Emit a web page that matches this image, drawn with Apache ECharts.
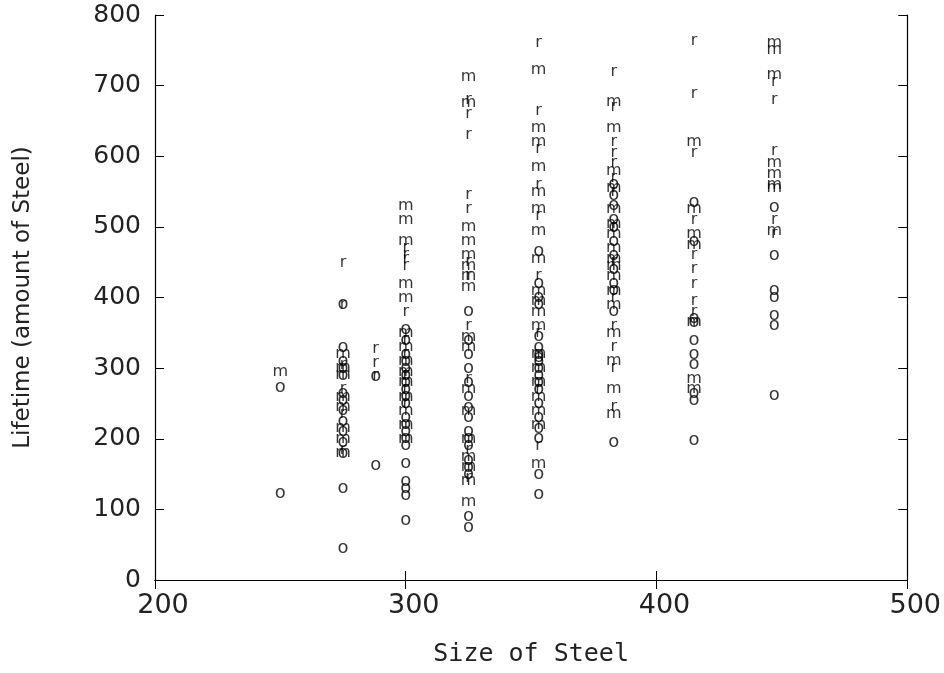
<!DOCTYPE html>
<html><head><meta charset="utf-8">
<script src="https://cdn.jsdelivr.net/npm/echarts@6/dist/echarts.min.js"></script>
<style>html,body{margin:0;padding:0;background:#fff}#c{width:944px;height:673px}</style>
</head><body><div id="c"></div>
<script>
const xTicks = [200, 300, 400, 500];
const yTicks = [0, 100, 200, 300, 400, 500, 600, 700, 800];
const groupO = [
 [250,273],[250,123],
 [275,390],[275,330],[275,310],[275,300],[275,290],[275,265],[275,255],[275,240],[275,225],[275,210],[275,195],[275,180],[275,130],[275,45],
 [288,289],[288,163],
 [300,355],[300,340],[300,320],[300,310],[300,300],[300,290],[300,280],[300,270],[300,260],[300,250],[300,230],[300,220],[300,210],[300,200],[300,190],[300,165],[300,140],[300,130],[300,120],[300,85],
 [325,380],[325,340],[325,320],[325,300],[325,280],[325,260],[325,245],[325,230],[325,210],[325,200],[325,190],[325,170],[325,160],[325,150],[325,90],[325,75],
 [353,465],[353,420],[353,400],[353,390],[353,345],[353,330],[353,320],[353,315],[353,310],[353,300],[353,290],[353,280],[353,270],[353,250],[353,230],[353,215],[353,200],[353,150],[353,122],
 [383,560],[383,545],[383,530],[383,510],[383,500],[383,480],[383,460],[383,440],[383,420],[383,410],[383,380],[383,195],
 [415,535],[415,480],[415,370],[415,365],[415,340],[415,320],[415,305],[415,265],[415,255],[415,198],
 [447,527],[447,460],[447,410],[447,400],[447,375],[447,360],[447,262]
];
const groupM = [
 [250,295],
 [275,320],[275,300],[275,290],[275,260],[275,245],[275,215],[275,200],[275,180],
 [300,530],[300,510],[300,480],[300,420],[300,400],[300,350],[300,330],[300,310],[300,295],[300,280],[300,260],[300,240],[300,220],[300,200],
 [325,713],[325,675],[325,500],[325,480],[325,460],[325,445],[325,430],[325,415],[325,345],[325,330],[325,270],[325,240],[325,200],[325,175],[325,160],[325,140],[325,110],
 [353,723],[353,640],[353,620],[353,585],[353,550],[353,525],[353,495],[353,455],[353,410],[353,395],[353,380],[353,360],[353,320],[353,300],[353,280],[353,260],[353,240],[353,220],[353,165],
 [383,677],[383,640],[383,580],[383,555],[383,525],[383,505],[383,490],[383,470],[383,455],[383,445],[383,430],[383,410],[383,390],[383,350],[383,310],[383,270],[383,235],
 [415,620],[415,525],[415,490],[415,475],[415,365],[415,285],[415,270],
 [447,760],[447,750],[447,715],[447,590],[447,575],[447,560],[447,555],[447,495]
];
const groupR = [
 [275,449],[275,390],[275,305],[275,270],[275,235],[275,185],
 [288,327],[288,307],[288,289],
 [300,470],[300,460],[300,455],[300,445],[300,380],[300,340],[300,320],[300,290],[300,270],[300,250],
 [325,680],[325,660],[325,630],[325,545],[325,525],[325,450],[325,430],[325,360],[325,285],[325,185],[325,145],
 [353,760],[353,665],[353,610],[353,560],[353,515],[353,430],[353,350],[353,270],[353,190],
 [383,720],[383,670],[383,620],[383,605],[383,590],[383,570],[383,550],[383,500],[383,450],[383,400],[383,360],[383,330],[383,300],[383,245],
 [415,763],[415,688],[415,605],[415,510],[415,460],[415,440],[415,420],[415,395],[415,380],
 [447,705],[447,680],[447,608],[447,510],[447,490]
];
const FONT = 'DejaVu Sans';
function ser(name, data, ch, size){
  return {name, type:'scatter', data, symbol:'circle', symbolSize:1,
    itemStyle:{color:'rgba(0,0,0,0)'}, silent:true, animation:false,
    label:{show:true, position:'inside', formatter:ch, color:'#000', fontFamily:FONT, fontSize:size, fontWeight:'normal'},
    xAxisIndex:0, yAxisIndex:0};
}
function axisStyle(){
  return {
    axisLine:{show:true, lineStyle:{color:'#000', width:1.2}},
    axisTick:{show:true, inside:true, length:9, lineStyle:{color:'#000', width:1}},
    splitLine:{show:false}
  };
}
const labelFont = {fontFamily:FONT, fontSize:25, color:'#222'};
const chart = echarts.init(document.getElementById('c'), null, {renderer:'canvas'});
chart.setOption({
  backgroundColor:'#fff',
  animation:false,
  grid:{left:155, right:32, top:15, bottom:93},
  xAxis:[
    Object.assign({type:'value', min:xTicks[0], max:xTicks[xTicks.length-1], interval:100, position:'bottom',
      name:'Size of Steel', nameLocation:'middle', nameGap:62,
      nameTextStyle:{fontFamily:'DejaVu Sans Mono', fontSize:25, color:'#222'},
      axisLabel:{margin:12, padding:[0,0,0,16], fontFamily:FONT, fontSize:27, color:'#222'}}, axisStyle()),
    Object.assign({type:'value', min:xTicks[0], max:xTicks[xTicks.length-1], interval:100, position:'top', axisLabel:{show:false}}, axisStyle())
  ],
  yAxis:[
    Object.assign({type:'value', min:yTicks[0], max:yTicks[yTicks.length-1], interval:100, position:'left',
      name:'Lifetime (amount of Steel)', nameLocation:'middle', nameGap:120,
      nameTextStyle:{fontFamily:FONT, fontSize:23, color:'#222'},
      axisLabel:Object.assign({margin:14}, labelFont)}, axisStyle()),
    Object.assign({type:'value', min:yTicks[0], max:yTicks[yTicks.length-1], interval:100, position:'right', axisLabel:{show:false}}, axisStyle())
  ],
  series:[ser('o', groupO, 'o', 18), ser('m', groupM, 'm', 16), ser('r', groupR, 'r', 16)]
});
</script></body></html>
